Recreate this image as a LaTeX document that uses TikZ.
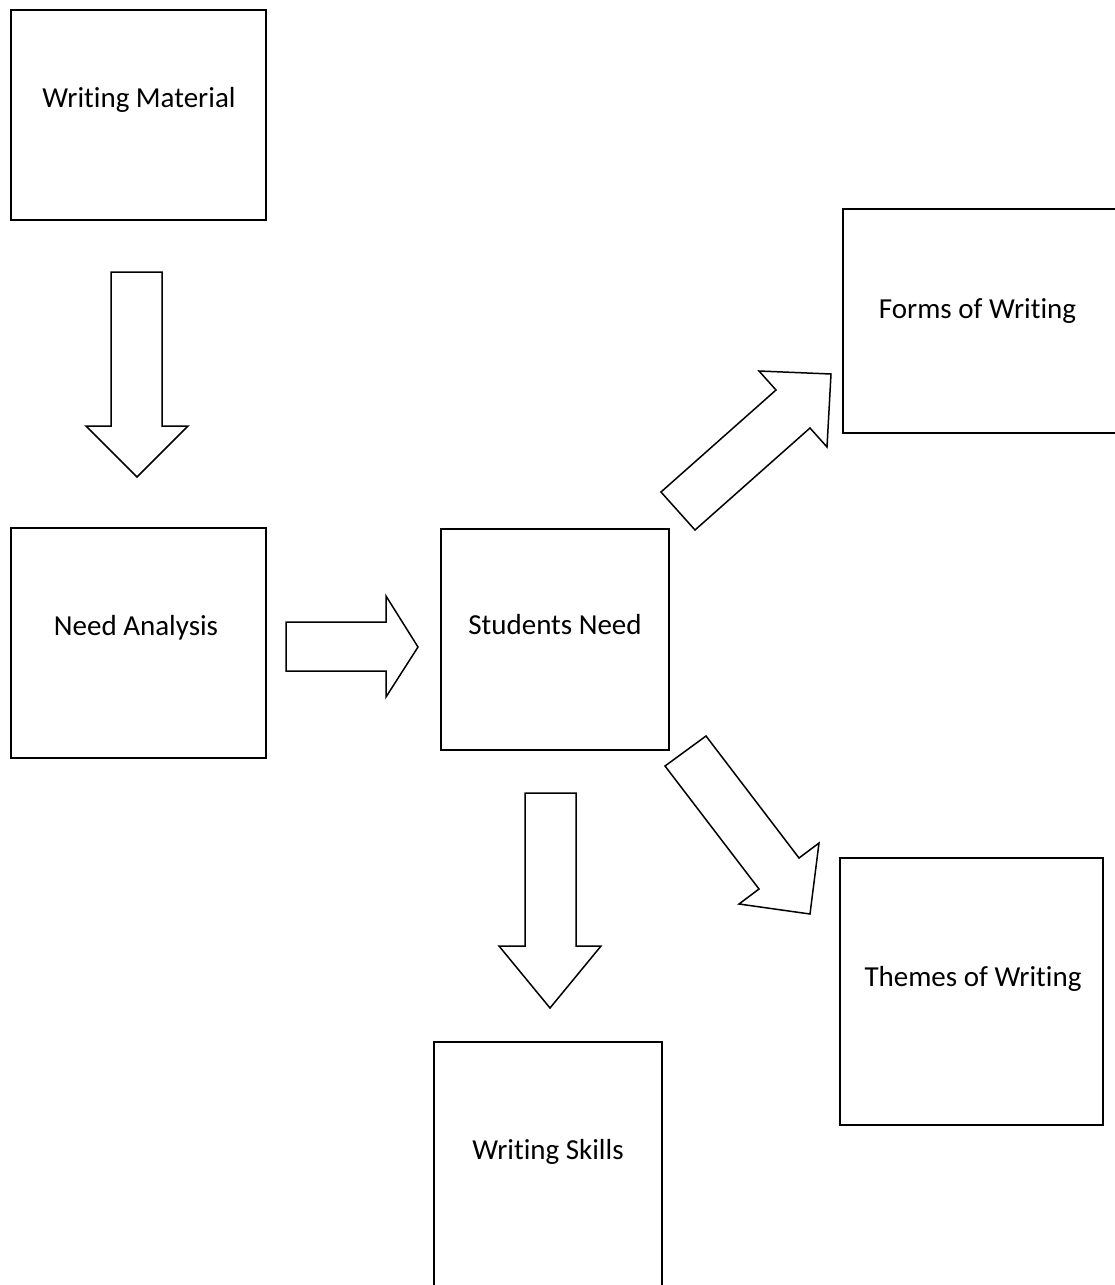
\documentclass[tikz,border=0pt]{standalone}
\usepackage{fontspec}
\setmainfont[Ligatures={NoCommon,NoContextual}]{Carlito}
\begin{document}
\begin{tikzpicture}[x=1pt,y=-1pt,
  box/.style={draw,line width=1.5pt,rectangle,inner sep=0pt},
  lbl/.style={font=\fontsize{29}{35}\selectfont,inner sep=0pt},
  blockarrow/.style={draw,line width=1.5pt,line join=miter,fill=white}]
\useasboundingbox (0,0) rectangle (1115,1285);
% boxes
\node[box,minimum width=255pt,minimum height=210pt] (wm) at (138.5,115) {};
\node[box,minimum width=282pt,minimum height=224pt] (fw) at (984,321) {};
\node[box,minimum width=255pt,minimum height=230pt] (na) at (138.5,643) {};
\node[box,minimum width=228pt,minimum height=221pt] (sn) at (555,639.5) {};
\node[box,minimum width=263pt,minimum height=267pt] (tw) at (971.5,991.5) {};
\node[box,minimum width=228pt,minimum height=258pt] (ws) at (548,1171) {};
% labels
\node[lbl] (wmt) at (139,100) {Writing Material};
\node[lbl] (fwt) at (977.5,311) {Forms of Writing};
\node[lbl] (nat) at (136,628) {Need Analysis};
\node[lbl] (snt) at (555,625) {Students Need};
\node[lbl] (twt) at (973,979) {Themes of Writing};
\node[lbl] (wst) at (548,1152) {Writing Skills};
% block arrows
\draw[blockarrow] (111,272) -- (162,272) -- (162,426) -- (188,426) -- (137,477) -- (86,426) -- (111,426) -- cycle;
\draw[blockarrow] (286,622) -- (386,622) -- (386,596) -- (418,647) -- (386,697) -- (386,671) -- (286,671) -- cycle;
\draw[blockarrow] (525,793) -- (576,793) -- (576,946) -- (601,946) -- (550,1008) -- (499,946) -- (525,946) -- cycle;
\draw[blockarrow] (661,492) -- (776,390) -- (759,371) -- (831,374) -- (827,447) -- (810,428) -- (695,530) -- cycle;
\draw[blockarrow] (665,766) -- (706,736) -- (799,858) -- (819,843) -- (810,914) -- (739,904) -- (759,889) -- cycle;
\end{tikzpicture}
\end{document}
